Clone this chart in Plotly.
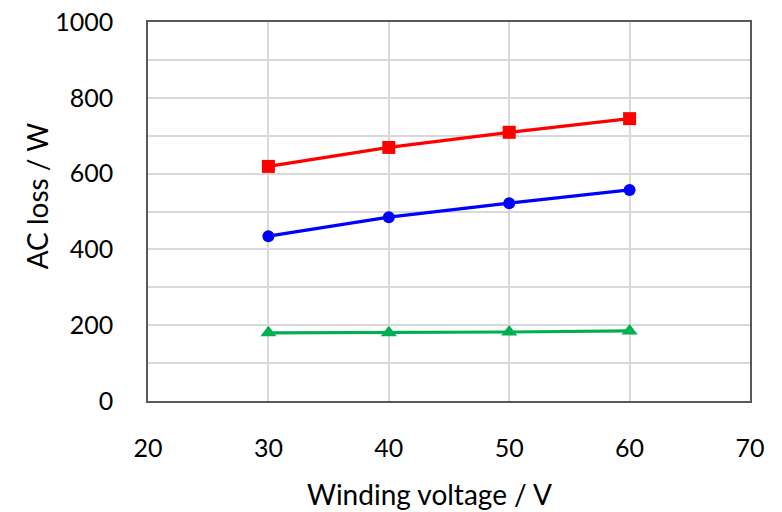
import plotly.graph_objects as go

voltage = [30, 40, 50, 60]
loss_red = [619, 669, 709, 745]
loss_blue = [435, 485, 522, 557]
loss_green = [180, 180, 182, 185]

x_title = "Winding voltage / V"
y_title = "AC loss / W"

series = [
    (loss_red, "#ff0000", "square", 13),
    (loss_blue, "#0000ff", "circle", 12),
    (loss_green, "#00b050", "triangle-up", 14),
]

fig = go.Figure()
for vals, color, sym, size in series:
    fig.add_trace(go.Scatter(
        x=voltage, y=vals, mode="lines+markers",
        line=dict(color=color, width=3.2),
        marker=dict(color=color, symbol=sym, size=size),
        showlegend=False,
    ))

font_family = "Lato, 'Open Sans', sans-serif"
fig.update_layout(
    width=782, height=512,
    margin=dict(l=148, r=32, t=22, b=111),
    plot_bgcolor="white", paper_bgcolor="white",
    font=dict(family=font_family, size=25, color="#000000"),
    annotations=[
        dict(text=x_title, xref="paper", yref="paper", x=0.467, y=0,
             xanchor="center", yanchor="middle", yshift=-93,
             showarrow=False, font=dict(size=28)),
        dict(text=y_title, xref="paper", yref="paper", x=0, y=0.54,
             xanchor="center", yanchor="middle", xshift=-111, textangle=-90,
             showarrow=False, font=dict(size=28)),
    ],
)
fig.update_xaxes(
    range=[20, 70], dtick=10, tick0=20, automargin=False,
    showgrid=True, gridcolor="#d9d9d9", gridwidth=1.5,
    showline=True, mirror=True, linecolor="#595959", linewidth=1.5,
    ticks="", ticklabelstandoff=24, ticklabeloverflow="allow",
    zeroline=False,
)
fig.update_yaxes(
    range=[0, 1000], dtick=200, tick0=0, automargin=False,
    showgrid=True, gridcolor="#d9d9d9", gridwidth=1.5,
    minor=dict(dtick=100, showgrid=True, gridcolor="#d9d9d9", gridwidth=1.5),
    showline=True, mirror=True, linecolor="#595959", linewidth=1.5,
    ticks="", ticklabelstandoff=28, ticklabeloverflow="allow",
    zeroline=False,
)
fig.write_html(
    "out.html",
    config={"displayModeBar": False},
    post_script="document.body.style.margin='0';document.body.style.overflow='hidden';",
)
